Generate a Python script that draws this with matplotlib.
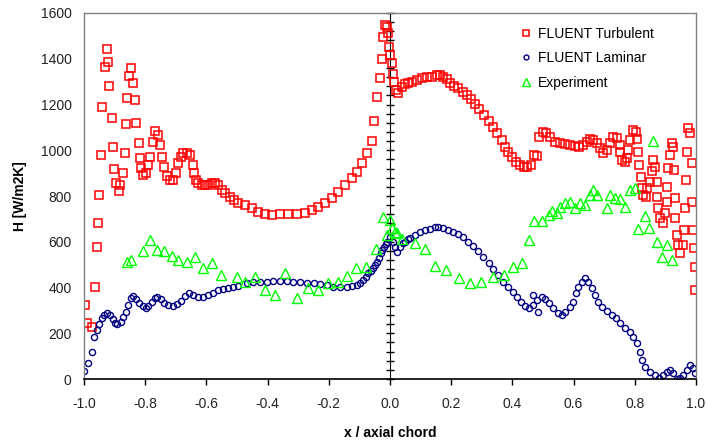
import numpy as np
import matplotlib
matplotlib.use('Agg')
import matplotlib.pyplot as plt
from matplotlib.ticker import MultipleLocator, FormatStrFormatter, NullFormatter

plt.rcParams['font.family'] = ['Liberation Sans', 'DejaVu Sans']

# FLUENT Turbulent
turb_x = [-0.997, -0.989, -0.975, -0.964, -0.958, -0.955, -0.952, -0.946, -0.942, -0.932,
          -0.926, -0.923, -0.918, -0.909, -0.904, -0.901, -0.895, -0.887, -0.882, -0.872,
          -0.866, -0.863, -0.859, -0.853, -0.846, -0.839, -0.833, -0.830, -0.820, -0.817,
          -0.814, -0.808, -0.797, -0.790, -0.784, -0.775, -0.768, -0.757, -0.752, -0.746,
          -0.738, -0.730, -0.719, -0.708, -0.699, -0.692, -0.684, -0.675, -0.665, -0.654,
          -0.645, -0.640, -0.634, -0.627, -0.616, -0.605, -0.594, -0.583, -0.572, -0.561,
          -0.550, -0.539, -0.523, -0.510, -0.496, -0.474, -0.452, -0.430, -0.408, -0.387,
          -0.359, -0.332, -0.305, -0.278, -0.256, -0.234, -0.212, -0.190, -0.169, -0.147,
          -0.125, -0.109, -0.092, -0.076, -0.060, -0.052, -0.043, -0.033, -0.027, -0.022,
          -0.016, -0.011, -0.005, -0.002, 0.000, 0.005, 0.011, 0.014, 0.018, 0.027,
          0.038, 0.049, 0.060, 0.071, 0.087, 0.104, 0.120, 0.136, 0.153, 0.163,
          0.174, 0.185, 0.196, 0.209, 0.223, 0.237, 0.250, 0.264, 0.278, 0.292,
          0.307, 0.322, 0.336, 0.351, 0.365, 0.376, 0.387, 0.398, 0.412, 0.425,
          0.438, 0.449, 0.460, 0.471, 0.480, 0.488, 0.499, 0.510, 0.523, 0.539,
          0.556, 0.572, 0.588, 0.605, 0.619, 0.632, 0.643, 0.654, 0.664, 0.675,
          0.686, 0.697, 0.708, 0.719, 0.730, 0.741, 0.750, 0.752, 0.757, 0.768,
          0.776, 0.779, 0.784, 0.795, 0.804, 0.806, 0.812, 0.815, 0.819, 0.823,
          0.826, 0.837, 0.841, 0.850, 0.855, 0.861, 0.866, 0.872, 0.872, 0.877,
          0.882, 0.891, 0.899, 0.904, 0.904, 0.910, 0.915, 0.921, 0.924, 0.928,
          0.931, 0.932, 0.937, 0.942, 0.948, 0.956, 0.961, 0.964, 0.967, 0.970,
          0.975, 0.980, 0.986, 0.986, 0.989, 0.993, 0.997, 0.997]
turb_y = [323, 246, 229, 404, 578, 682, 804, 979, 1190, 1363,
          1443, 1387, 1281, 1140, 1016, 917, 855, 823, 848, 899,
          989, 1115, 1227, 1325, 1358, 1296, 1220, 1121, 1033, 965,
          921, 892, 899, 936, 972, 1037, 1086, 1067, 1023, 972,
          928, 888, 870, 870, 899, 943, 972, 989, 989, 979,
          936, 899, 870, 855, 848, 848, 848, 855, 855, 848,
          826, 812, 797, 783, 768, 761, 746, 731, 721, 717,
          721, 721, 721, 727, 739, 751, 768, 790, 819, 848,
          877, 906, 943, 986, 1042, 1128, 1234, 1315, 1401, 1497,
          1548, 1540, 1511, 1453, 1417, 1380, 1333, 1300, 1264, 1252,
          1278, 1290, 1296, 1300, 1307, 1315, 1319, 1322, 1329, 1329,
          1322, 1310, 1296, 1281, 1271, 1256, 1242, 1223, 1202, 1179,
          1154, 1129, 1103, 1074, 1045, 1016, 994, 972, 950, 936,
          925, 928, 936, 979, 975, 1060, 1081, 1074, 1058, 1037,
          1030, 1027, 1023, 1019, 1016, 1023, 1037, 1048, 1045, 1030,
          1008, 989, 1001, 1030, 1060, 1052, 1023, 994, 958, 950,
          965, 1001, 1045, 1089, 1081, 1048, 994, 936, 885, 833,
          804, 797, 833, 863, 911, 958, 928, 863, 797, 746,
          702, 680, 724, 775, 841, 921, 979, 1030, 1016, 914,
          790, 702, 630, 586, 549, 586, 651, 746, 870, 994,
          1096, 1074, 943, 775, 651, 571, 491, 389]

# FLUENT Laminar
lam_x = [-1.000, -0.986, -0.973, -0.966, -0.958, -0.950, -0.942, -0.935, -0.926, -0.915,
         -0.906, -0.899, -0.891, -0.880, -0.872, -0.863, -0.855, -0.847, -0.839, -0.830,
         -0.819, -0.808, -0.797, -0.790, -0.779, -0.768, -0.760, -0.749, -0.739, -0.725,
         -0.708, -0.695, -0.684, -0.670, -0.656, -0.643, -0.626, -0.610, -0.594, -0.577,
         -0.561, -0.545, -0.528, -0.512, -0.496, -0.468, -0.447, -0.425, -0.403, -0.381,
         -0.359, -0.338, -0.316, -0.294, -0.272, -0.250, -0.229, -0.207, -0.185, -0.163,
         -0.141, -0.125, -0.109, -0.098, -0.087, -0.079, -0.071, -0.063, -0.056, -0.049,
         -0.043, -0.036, -0.030, -0.025, -0.020, -0.014, -0.009, 0.000, 0.011, 0.016,
         0.022, 0.033, 0.043, 0.049, 0.060, 0.065, 0.082, 0.098, 0.114, 0.131,
         0.147, 0.158, 0.174, 0.190, 0.207, 0.223, 0.239, 0.256, 0.272, 0.289,
         0.305, 0.322, 0.338, 0.354, 0.370, 0.387, 0.401, 0.414, 0.427, 0.441,
         0.455, 0.466, 0.468, 0.479, 0.485, 0.496, 0.507, 0.518, 0.534, 0.550,
         0.561, 0.572, 0.588, 0.599, 0.608, 0.616, 0.627, 0.637, 0.648, 0.659,
         0.670, 0.681, 0.692, 0.708, 0.725, 0.739, 0.752, 0.768, 0.784, 0.795,
         0.806, 0.817, 0.823, 0.833, 0.850, 0.866, 0.880, 0.893, 0.904, 0.915,
         0.926, 0.937, 0.948, 0.958, 0.970, 0.980, 0.989, 0.997]
lam_y = [36, 68, 117, 185, 214, 240, 265, 280, 290, 280,
         261, 246, 240, 250, 272, 294, 323, 353, 363, 348,
         331, 319, 309, 319, 338, 353, 360, 348, 334, 323,
         319, 328, 342, 363, 375, 367, 360, 360, 367, 377,
         389, 392, 397, 401, 407, 418, 425, 425, 425, 428,
         430, 428, 425, 423, 421, 418, 415, 410, 404, 404,
         404, 406, 411, 420, 433, 447, 462, 473, 484, 498,
         513, 531, 549, 564, 578, 590, 600, 622, 600, 578,
         557, 578, 596, 600, 612, 615, 630, 644, 651, 654,
         663, 666, 659, 651, 644, 634, 619, 600, 581, 561,
         535, 506, 480, 455, 425, 404, 382, 360, 338, 319,
         309, 323, 367, 345, 294, 357, 348, 331, 309, 287,
         280, 294, 316, 338, 375, 404, 425, 440, 425, 397,
         367, 338, 316, 299, 280, 265, 243, 222, 207, 185,
         156, 119, 83, 54, 32, 17, 3, 17, 32, 39,
         25, 0, 3, 17, 39, 61, 47, 25]

# Experiment
exp_x = [-0.861, -0.847, -0.807, -0.784, -0.762, -0.738, -0.713, -0.692, -0.665, -0.637,
         -0.610, -0.583, -0.553, -0.501, -0.474, -0.441, -0.408, -0.376, -0.343, -0.305,
         -0.267, -0.234, -0.201, -0.169, -0.141, -0.111, -0.078, -0.046, -0.022, -0.011,
         0.000, 0.008, 0.016, 0.022, 0.038, 0.082, 0.114, 0.147, 0.183, 0.225,
         0.261, 0.299, 0.338, 0.373, 0.401, 0.431, 0.453, 0.471, 0.496, 0.518,
         0.529, 0.545, 0.556, 0.572, 0.588, 0.605, 0.621, 0.637, 0.654, 0.664,
         0.675, 0.708, 0.719, 0.735, 0.752, 0.768, 0.784, 0.801, 0.812, 0.833,
         0.846, 0.861, 0.872, 0.888, 0.904, 0.921]
exp_y = [513, 520, 561, 608, 564, 561, 538, 520, 513, 535,
         484, 506, 455, 447, 425, 444, 389, 367, 462, 353,
         397, 389, 418, 425, 450, 484, 491, 568, 710, 630,
         695, 659, 644, 637, 611, 593, 568, 494, 477, 440,
         418, 425, 444, 455, 488, 509, 608, 692, 692, 717,
         736, 724, 753, 768, 775, 746, 768, 761, 804, 826,
         804, 746, 804, 790, 786, 751, 826, 833, 654, 713,
         659, 1042, 600, 535, 586, 520]

fig = plt.figure(figsize=(7.06, 4.44), dpi=100)
ax = fig.add_axes([84 / 706, 1 - 379 / 444, 612 / 706, 366 / 444])

ax.plot(turb_x, turb_y, linestyle='none', marker='s', markersize=5.6,
        markerfacecolor='none', markeredgecolor='#ff0000', markeredgewidth=1.1,
        label='FLUENT Turbulent')
ax.plot(lam_x, lam_y, linestyle='none', marker='o', markersize=4.4,
        markerfacecolor='none', markeredgecolor='#000080', markeredgewidth=1.0,
        label='FLUENT Laminar')
ax.plot(exp_x, exp_y, linestyle='none', marker='^', markersize=6.5,
        markerfacecolor='none', markeredgecolor='#00ff00', markeredgewidth=1.0,
        label='Experiment')

ax.set_xlim(-1, 1)
ax.set_ylim(0, 1600)
ax.xaxis.set_major_locator(MultipleLocator(0.2))
ax.xaxis.set_major_formatter(FormatStrFormatter('%.1f'))
ax.yaxis.set_major_locator(MultipleLocator(200))

for side in ['left', 'top', 'right']:
    ax.spines[side].set_color('#808080')
    ax.spines[side].set_linewidth(1.0)
ax.spines['bottom'].set_color('black')
ax.spines['bottom'].set_linewidth(1.2)

ax.tick_params(axis='y', length=0, pad=9, labelsize=10, labelcolor='#222222')
ax.tick_params(axis='x', direction='out', length=4, width=1, pad=9,
               labelsize=10, labelcolor='#222222')

# value axis crossing at x = 0 (ticks only, labels sit at the left edge)
sec = ax.secondary_yaxis(0.5)
sec.spines['left'].set_color('black')
sec.spines['left'].set_linewidth(1.2)
sec.yaxis.set_major_locator(MultipleLocator(200))
sec.yaxis.set_minor_locator(MultipleLocator(40))
sec.yaxis.set_major_formatter(NullFormatter())
sec.yaxis.set_minor_formatter(NullFormatter())
sec.tick_params(which='both', direction='inout', length=6, width=1, color='black')

ax.set_xlabel('x / axial chord', fontsize=10, fontweight='bold', labelpad=11)
ax.set_ylabel('H [W/m2K]', fontsize=10, fontweight='bold', labelpad=10)

ax.legend(loc='upper left', bbox_to_anchor=(0.70, 0.981), frameon=False,
          fontsize=10, borderpad=0, handlelength=1.0, handletextpad=0.35,
          labelspacing=0.75, markerscale=0.8)

fig.savefig('out.png', dpi=100)
